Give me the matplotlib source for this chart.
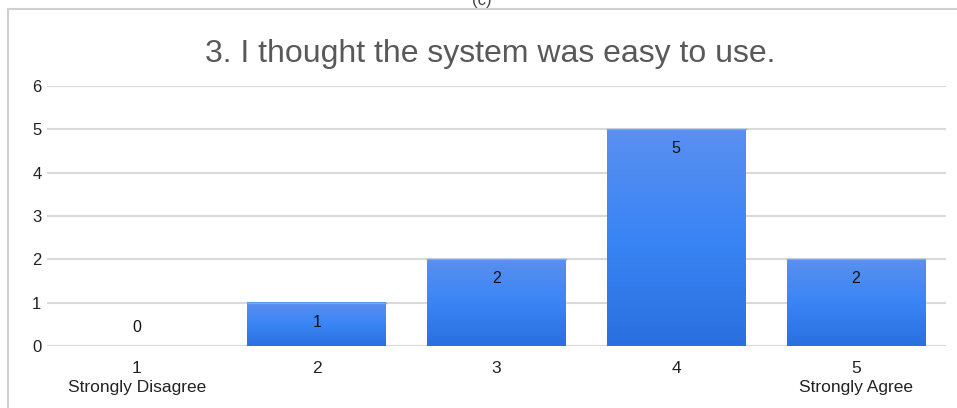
import numpy as np
import matplotlib
matplotlib.use("Agg")
from matplotlib import pyplot as plt
from matplotlib.colors import LinearSegmentedColormap
from matplotlib.lines import Line2D

# survey answers for question 3
scores = ["1", "2", "3", "4", "5"]
tick_labels = ["1\nStrongly Disagree", "2", "3", "4", "5\nStrongly Agree"]
counts = [0, 1, 2, 5, 2]

plt.rcParams['font.family'] = ['Liberation Sans', 'DejaVu Sans']

fig = plt.figure(figsize=(9.57, 4.08), dpi=100)
ax = fig.add_axes([0.0491, 0.152, 0.9394, 0.637])

# gradient fill for the bars, lighter on top
grad_cmap = LinearSegmentedColormap.from_list("barblue", ["#2a6fe0", "#3a85f5", "#5b8ff0"])
grad = np.linspace(0, 1, 256).reshape(-1, 1)

x = np.arange(len(scores))
width = 0.77
bars = ax.bar(x, counts, width=width, color="none", edgecolor="none", zorder=3)
for b, v in zip(bars, counts):
    if v <= 0:
        continue
    x0 = b.get_x()
    ax.imshow(grad, cmap=grad_cmap, aspect="auto", origin="lower",
              extent=[x0, x0 + width, 0, v], zorder=3)
    ax.plot([x0, x0 + width], [v, v], color="#7aa6f2", lw=1, zorder=4)

# value labels
for xi, v in zip(x, counts):
    if v > 0:
        ax.text(xi, v - 0.45, str(v), ha="center", va="center", fontsize=11.5, color="#111111", zorder=5)
    else:
        ax.text(xi, 0.42, str(v), ha="center", va="center", fontsize=11.5, color="#111111", zorder=5)

ax.set_xlim(-0.5, len(scores) - 0.5)
ax.set_ylim(0, 6)
ax.set_yticks(range(0, 7))
ax.set_xticks(x)
ax.set_xticklabels(tick_labels, fontsize=12.5, color="#222222", linespacing=1.3)
ax.tick_params(axis="y", labelsize=12, colors="#222222", length=0, pad=4)
ax.tick_params(axis="x", length=0, pad=11)
ax.grid(axis="y", color="#d9d9d9", lw=1.5, zorder=0)
ax.set_axisbelow(True)
for s in ax.spines.values():
    s.set_visible(False)

fig.text(0.512, 0.868, "3. I thought the system was easy to use.", ha="center", va="center",
         fontsize=23, color="#595959")

# outer frame of the chart box
fig.add_artist(Line2D([8/957, 8/957], [0, 1 - 9/408], transform=fig.transFigure, color="#d0d0d0", lw=1.5))
fig.add_artist(Line2D([8/957, 1], [1 - 9/408, 1 - 9/408], transform=fig.transFigure, color="#d0d0d0", lw=1.5))
fig.text(0.503, 1.0, "(c)", ha="center", va="center", fontsize=12, color="#444444")

fig.savefig("out.png", dpi=100)
